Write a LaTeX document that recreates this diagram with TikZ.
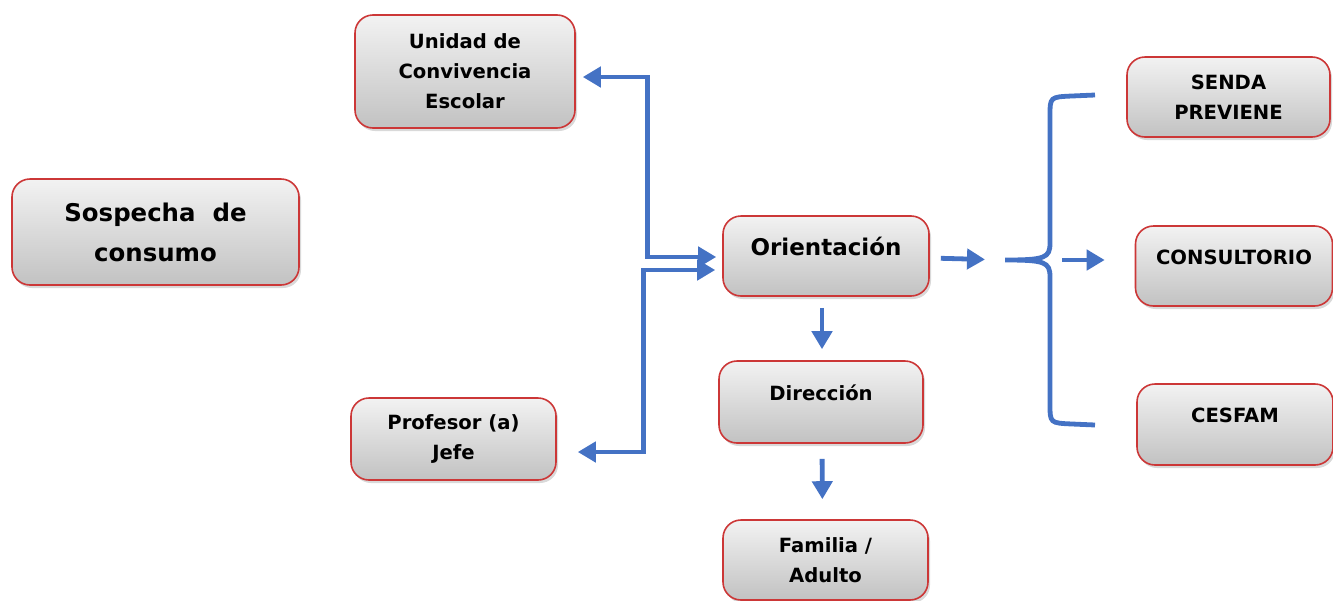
\documentclass[tikz,border=0pt]{standalone}
\usepackage{fontspec}
\setmainfont{DejaVu Sans}
\usetikzlibrary{arrows.meta,shadows}
\definecolor{boxred}{RGB}{204,55,55}
\definecolor{flowblue}{RGB}{68,114,196}

\begin{document}
\begin{tikzpicture}[x=0.5pt,y=-0.5pt]
 \tikzset{box/.style = {draw=boxred,line width=0.8pt,rounded corners=9pt,top color=gray!10,bottom color=gray!48,
   drop shadow={shadow xshift=1pt,shadow yshift=-1.5pt,opacity=.3},align=center,
   font=\fontsize{9.8}{15}\selectfont\bfseries}}
 \tikzset{oneline/.style = {text height=7.1pt,text depth=9pt}}
 \tikzset{edge/.style = {-{Triangle[width=10pt,length=9pt]},line width=2.4pt,draw=flowblue}}
 \tikzset{biedge/.style = {{Triangle[width=10pt,length=9pt]}-{Triangle[width=10pt,length=9pt]},line width=2.4pt,draw=flowblue}}
 \useasboundingbox (0,0) rectangle (1333,600);
 \node[box,minimum width=143.5pt,minimum height=53pt,font=\fontsize{12.2}{20}\selectfont\bfseries] (sos) at (155.5,232) {Sospecha\ \ de\\consumo};
 \node[box,minimum width=110pt,minimum height=56.5pt] (uni) at (465,71.5) {Unidad de\\Convivencia\\Escolar};
 \node[box,minimum width=102.5pt,minimum height=41pt] (pro) at (453.5,439) {Profesor (a)\\Jefe};
 \node[box,oneline,minimum width=103pt,minimum height=40pt,font=\fontsize{11.5}{15}\selectfont\bfseries,text height=8.4pt] (ori) at (826,256) {Orientación};
 \node[box,oneline,minimum width=102pt,minimum height=41pt] (dir) at (821,402) {Dirección};
 \node[box,minimum width=102.5pt,minimum height=40pt] (fam) at (825.5,560) {Familia /\\Adulto};
 \node[box,minimum width=101.5pt,minimum height=40pt] (sen) at (1228.5,97) {SENDA\\PREVIENE};
 \node[box,oneline,minimum width=98.5pt,minimum height=40pt] (con) at (1234,266) {CONSULTORIO};
 \node[box,oneline,minimum width=98pt,minimum height=40.5pt] (ces) at (1235,424.5) {CESFAM};

 \coordinate (tip) at (1005,260);
 \draw[flowblue,line width=2.4pt] (1095,95) -- (1072,96) .. controls (1050,97) .. (1050,116)
   -- (1050,243) .. controls (1050,258) and (1045,260) .. (tip)
   (tip) .. controls (1045,260) and (1050,262) .. (1050,277) -- (1050,404)
   .. controls (1050,423) .. (1072,424) -- (1095,425);

 \draw[biedge] ([shift={(7,5.5)}]uni.east) -| ([shift={(-75,1)}]ori.west) -- ([shift={(-6,1)}]ori.west);
 \draw[biedge] ([shift={(21,13)}]pro.east) -| ([shift={(-79,14)}]ori.west) -- ([shift={(-7,14)}]ori.west);
 \draw[edge,shorten <=5.5pt,shorten >=5.5pt] ([xshift=-2pt]ori.south) -- ([xshift=0.5pt]dir.north);
 \draw[edge,shorten <=7.5pt,shorten >=10pt] ([xshift=0.5pt]dir.south) -- ([xshift=-1.5pt]fam.north);
 \draw[edge,shorten <=5.5pt,shorten >=10pt] ([yshift=-1pt]ori.east) -- (tip);
 \draw[edge] (1062,260) -- ([xshift=-15pt,yshift=3pt]con.west);

 \end{tikzpicture}
\end{document}
